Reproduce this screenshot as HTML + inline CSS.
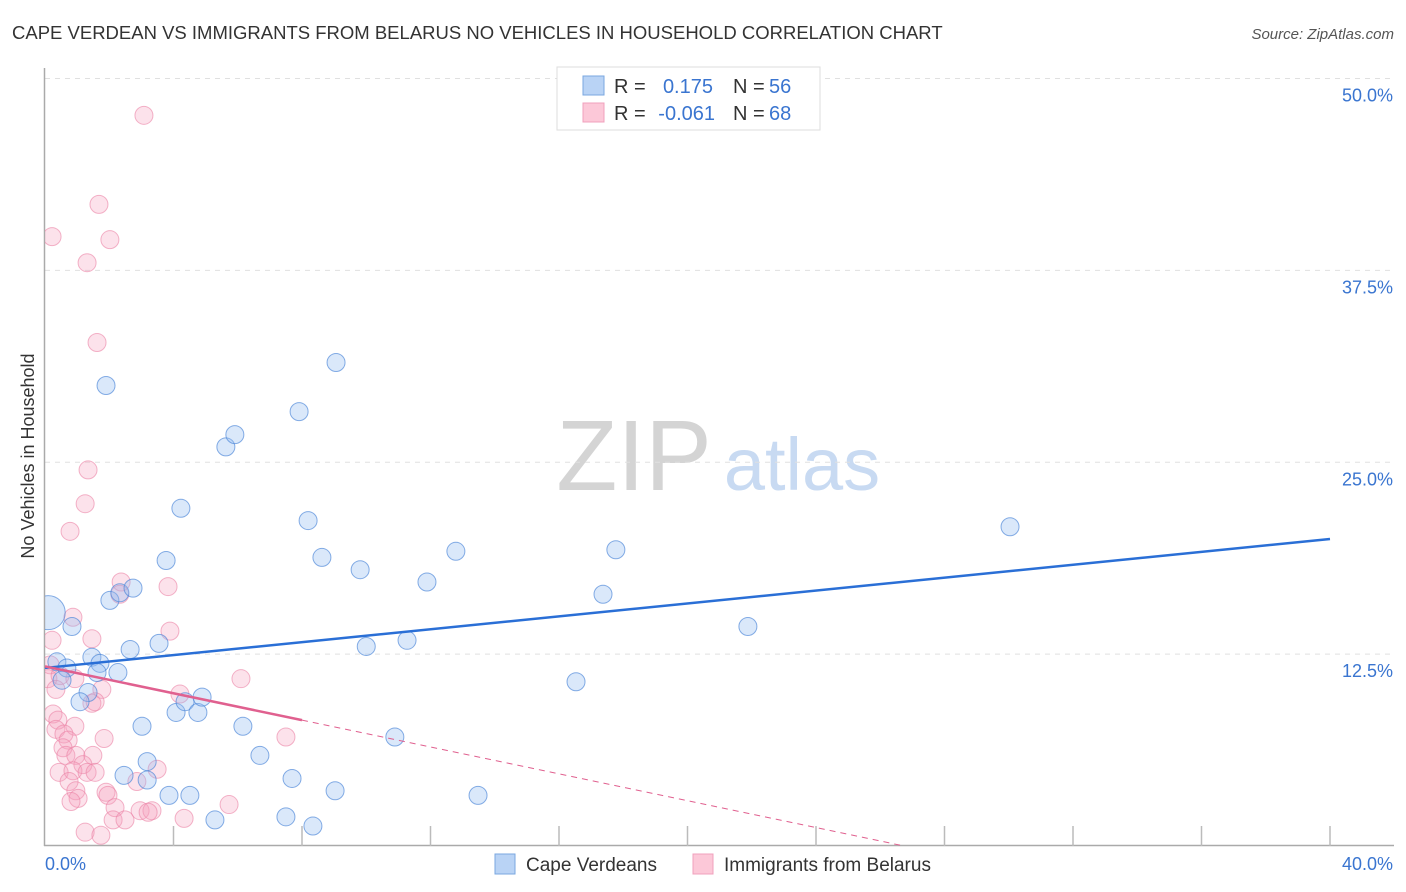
<!DOCTYPE html>
<html><head><meta charset="utf-8">
<style>
body{margin:0;background:#fff;font-family:"Liberation Sans",sans-serif;}
#wrap{position:relative;width:1406px;height:892px;overflow:hidden;}
svg text{font-family:"Liberation Sans",sans-serif;}
</style></head>
<body>
<div id="wrap">
<svg id="chart" width="1406" height="892">
<defs><clipPath id="plotclip"><rect x="45" y="60" width="1360" height="786"/></clipPath></defs>
<text x="12" y="39" font-size="18.5" fill="#333">CAPE VERDEAN VS IMMIGRANTS FROM BELARUS NO VEHICLES IN HOUSEHOLD CORRELATION CHART</text>
<text x="1394" y="39" font-size="15" fill="#555" font-style="italic" text-anchor="end">Source: ZipAtlas.com</text>
<text transform="translate(34,456) rotate(-90)" font-size="18" fill="#333" text-anchor="middle">No Vehicles in Household</text>
<g>
<text x="634" y="490" font-size="100" fill="#d4d4d4" font-family="Liberation Serif" text-anchor="middle">ZIP</text>
<text x="802" y="490" font-size="74" fill="#c8daf2" text-anchor="middle">atlas</text>
</g>
<g id="grid"></g>
<g id="axes"></g>
<g id="pinkpts" clip-path="url(#plotclip)"></g>
<g id="bluepts" clip-path="url(#plotclip)"></g>
<g id="lines"></g>
<g>
<rect x="557" y="67" width="263" height="63" fill="#fff" stroke="#ddd"/>
<rect x="583" y="76" width="21" height="19" fill="#b9d3f5" stroke="#7aa7e0"/>
<rect x="583" y="103" width="21" height="19" fill="#fcc8d8" stroke="#f0a0bc"/>
<text x="614" y="93" font-size="20" fill="#333">R =</text>
<text x="713" y="93" font-size="20" fill="#3a75d0" text-anchor="end">0.175</text>
<text x="733" y="93" font-size="20" fill="#333">N =</text>
<text x="769" y="93" font-size="20" fill="#3a75d0">56</text>
<text x="614" y="120" font-size="20" fill="#333">R =</text>
<text x="715" y="120" font-size="20" fill="#3a75d0" text-anchor="end">-0.061</text>
<text x="733" y="120" font-size="20" fill="#333">N =</text>
<text x="769" y="120" font-size="20" fill="#3a75d0">68</text>
</g>
<g>
<rect x="495" y="854" width="20" height="20" fill="#b9d3f5" stroke="#7aa7e0"/>
<text x="526" y="871" font-size="19" fill="#333">Cape Verdeans</text>
<rect x="693" y="854" width="20" height="20" fill="#fcc8d8" stroke="#f0a0bc"/>
<text x="724" y="871" font-size="19" fill="#333">Immigrants from Belarus</text>
</g>
</svg>
</div>
<script>
const xTicks=[0,4,8,12,16,20,24,28,32,36,40];
const yTicks=[12.5,25,37.5,50];
const yTickLabels=["12.5%","25.0%","37.5%","50.0%"];
const blueX=[0.1,0.37,0.68,0.53,0.84,1.9,1.34,1.09,1.46,1.71,1.62,2.27,2.02,2.33,2.74,2.65,2.46,3.02,3.18,3.18,3.55,3.77,3.86,4.08,4.23,4.36,4.51,4.76,4.89,5.29,5.63,5.91,6.16,6.69,7.5,7.69,7.91,8.19,8.34,8.62,9.03,9.06,9.81,10.0,10.89,11.27,11.89,12.79,13.48,16.53,17.37,17.77,21.88,30.04];
const blueY=[15.2,12.0,11.6,10.8,14.3,30.0,10.0,9.4,12.3,11.9,11.3,11.3,16.0,16.5,16.8,12.8,4.6,7.8,5.5,4.3,13.2,18.6,3.3,8.7,22.0,9.4,3.3,8.7,9.7,1.7,26.0,26.8,7.8,5.9,1.9,4.4,28.3,21.2,1.3,18.8,3.6,31.5,18.0,13.0,7.1,13.4,17.2,19.2,3.3,10.7,16.4,19.3,14.3,20.8];
const pinkX=[3.08,0.22,1.68,2.02,1.31,1.62,1.34,1.25,0.78,2.37,3.83,2.33,0.87,3.89,1.46,0.22,0.16,0.09,0.47,0.93,0.34,1.77,1.46,1.56,4.2,6.1,0.25,0.40,0.93,0.34,0.59,0.72,1.84,0.56,0.65,0.96,1.49,1.18,0.44,0.87,1.31,1.56,0.75,3.49,2.86,0.96,1.9,1.96,1.03,0.81,2.18,2.96,3.33,3.21,5.73,4.33,2.12,2.49,1.25,1.74,7.5];
const pinkY=[47.6,39.7,41.8,39.5,38.0,32.8,24.5,22.3,20.5,17.2,16.9,16.4,14.9,14.0,13.5,13.4,11.8,10.9,11.1,10.9,10.2,10.2,9.3,9.4,9.9,10.9,8.6,8.2,7.8,7.6,7.3,6.9,7.0,6.4,5.9,5.9,5.9,5.3,4.8,4.9,4.8,4.8,4.2,5.0,4.2,3.6,3.5,3.3,3.1,2.9,2.5,2.3,2.3,2.2,2.7,1.8,1.7,1.7,0.9,0.7,7.1];
const blueTrend=[11.6,20.0];
const pinkTrend=[11.7,8.2];
const pinkTrendEndX=8;
const NS="http://www.w3.org/2000/svg";
const X=v=>45+v*32.125, Y=v=>846-v*15.35;
function mk(t,a,p){const e=document.createElementNS(NS,t);for(const k in a)e.setAttribute(k,a[k]);p.appendChild(e);return e;}
const grid=document.getElementById('grid'),axes=document.getElementById('axes');
yTicks.forEach((v,i)=>{
 const l=mk('line',{x1:45,x2:1394,y1:Y(v),y2:Y(v),stroke:'#e0e0e0','stroke-dasharray':'5,5'},grid);
 
 
 const t=mk('text',{x:1393,y:Y(v)+23,'font-size':18,fill:'#3a75d0','text-anchor':'end'},axes);
 t.textContent=yTickLabels[i];
 
 
});
const ax=mk('line',{x1:44.5,x2:44.5,y1:68,y2:846,stroke:'#aaa','stroke-width':1.5},axes);


const bx=mk('line',{x1:44,x2:1394,y1:845.5,y2:845.5,stroke:'#aaa','stroke-width':1.5},axes);


xTicks.forEach(v=>{if(v===0)return;
 const t=mk('line',{x1:X(v),x2:X(v),y1:826,y2:846,stroke:'#bbb','stroke-width':1.5},axes);
 
 
});
const xl=mk('text',{x:45,y:870,'font-size':18,fill:'#3a75d0'},axes);xl.textContent='0.0%';


const xr=mk('text',{x:1393,y:870,'font-size':18,fill:'#3a75d0','text-anchor':'end'},axes);xr.textContent='40.0%';


const pg=document.getElementById('pinkpts');
pinkX.forEach((x,i)=>{
 const c=mk('circle',{cx:X(x),cy:Y(pinkY[i]),r:9,fill:'rgba(245,160,190,0.3)',stroke:'rgba(235,130,165,0.6)','stroke-width':1},pg);
 
 
});
const bg=document.getElementById('bluepts');
blueX.forEach((x,i)=>{
 const c=mk('circle',{cx:X(x),cy:Y(blueY[i]),r:i===0?17:9,fill:'rgba(150,190,240,0.35)',stroke:'rgba(70,130,215,0.65)','stroke-width':1},bg);
 
 
});
const lg=document.getElementById('lines');
const bl=mk('line',{x1:X(0),y1:Y(blueTrend[0]),x2:X(40),y2:Y(blueTrend[1]),stroke:'#2a6fd6','stroke-width':2.5},lg);


const slope=(pinkTrend[1]-pinkTrend[0])/pinkTrendEndX;
const pl=mk('line',{x1:X(0),y1:Y(pinkTrend[0]),x2:X(pinkTrendEndX),y2:Y(pinkTrend[1]),stroke:'#e0608f','stroke-width':2.5},lg);


const zx=-pinkTrend[0]/slope;
const pd=mk('line',{x1:X(pinkTrendEndX),y1:Y(pinkTrend[1]),x2:X(zx),y2:Y(0),stroke:'#e0608f','stroke-width':1,'stroke-dasharray':'6,5'},lg);


</script>
</body></html>
